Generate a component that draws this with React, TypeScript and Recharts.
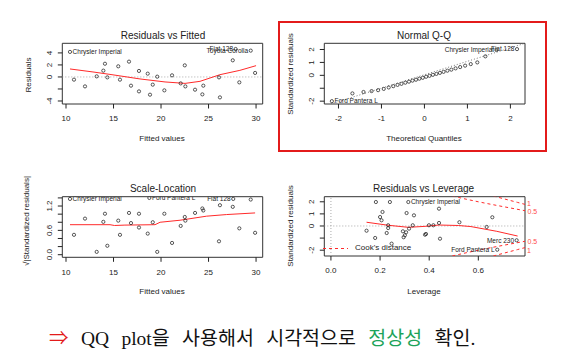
import React from 'react';
import { ComposedChart, Scatter, Line, XAxis, YAxis, ReferenceLine, ReferenceArea } from 'recharts';

const FONT = '"Liberation Sans", Arial, Helvetica, sans-serif';
const INK = '#222';
const RED = '#ff2a2a';

// Residuals vs Fitted
const rvfFitted = [10.42, 10.84, 12.0, 13.23, 13.93, 14.1, 14.35, 15.5, 15.68, 16.63, 16.84, 17.68, 17.68, 18.6, 18.84, 19.13, 19.6, 20.35, 21.16, 22.07, 22.5, 22.56, 23.58, 24.35, 24.45, 26.1, 26.2, 27.55, 27.85, 28.24, 29.44, 29.9];
const rvfResid = [4.17, -0.45, -1.57, 0.1, 1.05, 2.2, -0.07, 1.77, -0.45, 2.55, -1.45, 1.0, -2.4, 0.55, -2.95, -1.28, 0.05, -2.23, 0.27, -1.07, 1.93, -1.57, -2.12, -2.9, -1.45, -0.07, -3.4, 2.77, 4.65, -0.9, 4.38, 0.67];
const rvfNames: Record<number, string> = { 0: 'Chrysler Imperial', 28: 'Fiat 128', 30: 'Toyota Corolla' };
const rvfSmoothX = [10.42, 12.84, 14.95, 17.79, 20.42, 22.53, 24.1, 26.2, 28.3, 30.0];
const rvfSmoothY = [1.33, 0.83, 0.35, -0.33, -0.83, -1.07, -0.73, 0.38, 1.1, 1.88];

// Normal Q-Q
const qqTheo = [-2.154, -1.676, -1.418, -1.23, -1.078, -0.947, -0.831, -0.725, -0.626, -0.534, -0.445, -0.36, -0.278, -0.197, -0.118, -0.039, 0.039, 0.118, 0.197, 0.278, 0.36, 0.445, 0.534, 0.626, 0.725, 0.831, 0.947, 1.078, 1.23, 1.418, 1.676, 2.154];
const qqStd = [-2.0, -1.4, -1.29, -1.22, -1.15, -1.05, -0.94, -0.84, -0.74, -0.66, -0.57, -0.49, -0.41, -0.34, -0.26, -0.19, -0.11, -0.04, 0.04, 0.11, 0.19, 0.27, 0.36, 0.44, 0.54, 0.64, 0.75, 0.87, 1.0, 1.47, 1.96, 2.03];
const qqNames: Record<number, string> = { 0: 'Ford Pantera L', 30: 'Chrysler Imperial', 31: 'Fiat 128' };
const qqLineX = [-2.18, 2.34];
const qqLineY = [-2.22, 2.48];

// Scale-Location
const slFitted = [10.42, 10.84, 12.0, 13.23, 13.93, 14.1, 14.35, 15.5, 15.68, 16.63, 16.84, 17.68, 17.68, 18.6, 18.77, 19.13, 19.6, 20.35, 21.16, 22.07, 22.5, 22.56, 23.58, 24.35, 24.45, 26.1, 26.2, 27.55, 27.6, 28.24, 29.44, 29.9];
const slRoot = [1.375, 0.49, 0.89, 0.07, 0.81, 1.01, 0.22, 0.84, 0.49, 1.03, 0.78, 1.01, 0.67, 0.52, 1.4, 0.8, 0.07, 1.01, 0.29, 0.71, 0.93, 0.84, 1.03, 1.14, 1.09, 0.33, 1.22, 1.18, 1.375, 0.65, 1.36, 0.54];
const slNames: Record<number, string> = { 0: 'Chrysler Imperial', 14: 'Ford Pantera L', 28: 'Fiat 128' };
const slSmoothX = [10.42, 14.63, 15.1, 16.2, 19.37, 19.9, 22.0, 24.8, 26.9, 29.9];
const slSmoothY = [0.74, 0.74, 0.72, 0.73, 0.74, 0.8, 0.85, 0.95, 0.99, 1.03];

// Residuals vs Leverage
const lvLev = [0.145, 0.18, 0.183, 0.2, 0.206, 0.21, 0.227, 0.233, 0.233, 0.24, 0.247, 0.293, 0.296, 0.301, 0.306, 0.308, 0.315, 0.318, 0.333, 0.338, 0.383, 0.387, 0.399, 0.417, 0.44, 0.44, 0.444, 0.523, 0.634, 0.657, 0.677, 0.756];
const lvStd = [-0.39, -0.99, 1.98, 0.74, 0.47, 1.16, -0.58, 0.06, -0.17, 1.98, -1.46, -0.44, -0.93, -0.77, -0.52, 1.07, 1.98, -0.22, 0.06, 0.88, -0.72, -0.66, 0.06, 0.06, 1.43, 0.25, -1.05, 0.31, -0.08, 0.72, -1.96, -1.18];
const lvNames: Record<number, string> = { 16: 'Chrysler Imperial', 30: 'Ford Pantera L', 31: 'Merc 230' };
const lvSmoothX = [0.145, 0.233, 0.315, 0.383, 0.44, 0.52, 0.57, 0.675, 0.76];
const lvSmoothY = [0.31, 0.06, -0.11, -0.03, 0.08, 0.04, -0.05, -0.44, -0.83];
const cookHalfX = [0.494, 0.506, 0.52, 0.55, 0.6, 0.65, 0.7, 0.75, 0.79];
const cookHalfY = [2.479, 2.42, 2.353, 2.216, 2.0, 1.797, 1.604, 1.414, 1.263];
const cookOneX = [0.661, 0.672, 0.7, 0.73, 0.76, 0.79];
const cookOneY = [2.481, 2.42, 2.268, 2.107, 1.947, 1.786];

const pts = (xs: number[], ys: number[], names: Record<number, string> = {}) =>
  xs.map((x, i) => ({ x, y: ys[i], name: names[i] }));
const neg = (ys: number[]) => ys.map(v => -v);

const pointShape = (mid: number) => (p: any) => {
  const { cx, cy, payload } = p;
  const left = payload.x > mid;
  return (
    <g>
      <circle cx={cx} cy={cy} r={1.6} fill="none" stroke={INK} strokeWidth={0.75} />
      {payload.name ? (
        <text x={left ? cx - 2.6 : cx + 2.6} y={cy} dy="0.36em" fontSize={6.5} fontFamily={FONT} fill={INK} textAnchor={left ? 'end' : 'start'}>
          {payload.name}
        </text>
      ) : null}
    </g>
  );
};

const fmt = (d: number) => (v: number) => v.toFixed(d);
const AX = 30; // room reserved for axis ticks inside the margins

function Panel({ pos, frame, xDomain, yDomain, xTicks, yTicks, yShown, xDigits = 0, yDigits = 0, children }: any) {
  const [L, T, W, H] = pos;
  const fx = fmt(xDigits);
  const fy = fmt(yDigits);
  return (
    <div style={{ position: 'absolute', left: L, top: T }}>
      <ComposedChart width={W} height={H} margin={{ top: frame[1], left: frame[0] - AX, right: W - frame[2], bottom: H - frame[3] - AX }}>
        <XAxis
          type="number"
          dataKey="x"
          domain={xDomain}
          allowDataOverflow
          ticks={xTicks}
          interval={0}
          height={AX}
          axisLine={false}
          tickLine={{ stroke: INK }}
          tickSize={4.5}
          tickMargin={7}
          tick={(t: any) => (
            <text x={t.x} y={t.y} dy="0.72em" textAnchor="middle" fontSize={8} fontFamily={FONT} fill={INK}>
              {fx(t.payload.value)}
            </text>
          )}
        />
        <YAxis
          type="number"
          dataKey="y"
          domain={yDomain}
          allowDataOverflow
          ticks={yTicks}
          interval={0}
          width={AX}
          axisLine={false}
          tickLine={{ stroke: INK }}
          tickSize={4.5}
          tickMargin={6}
          tick={(t: any) =>
            yShown.some((s: number) => Math.abs(s - t.payload.value) < 1e-6) ? (
              <text x={t.x} y={t.y} transform={`rotate(-90 ${t.x} ${t.y})`} textAnchor="middle" fontSize={8} fontFamily={FONT} fill={INK}>
                {fy(t.payload.value)}
              </text>
            ) : (
              <g />
            )
          }
        />
        <ReferenceArea x1={xDomain[0]} x2={xDomain[1]} y1={yDomain[0]} y2={yDomain[1]} fill="none" fillOpacity={0} stroke="#333" strokeWidth={1} ifOverflow="visible" />
        {children}
      </ComposedChart>
    </div>
  );
}

const Txt = ({ x, y, children, size = 8, rotate = false, color = INK, start = false }: any) => (
  <div
    style={{
      position: 'absolute',
      left: x,
      top: y,
      transform: `translate(${start ? '0' : '-50%'},-50%)${rotate ? ' rotate(-90deg)' : ''}`,
      fontSize: size,
      fontFamily: FONT,
      color,
      whiteSpace: 'nowrap',
      lineHeight: 1,
    }}
  >
    {children}
  </div>
);

export default function App() {
  const dotted = { stroke: '#aaa', strokeDasharray: '1 2', strokeWidth: 1 };
  return (
    <div style={{ position: 'absolute', left: 0, top: 0, width: 561, height: 362, background: '#fff', overflow: 'hidden' }}>
      <Panel pos={[0, 0, 280, 150]} frame={[62.3, 43.3, 262.7, 104]} xDomain={[9.61, 30.7]} yDomain={[-4.5, 5.6]}
        xTicks={[10, 15, 20, 25, 30]} yTicks={[-4, -2, 0, 2, 4]} yShown={[-4, 0, 2, 4]}>
        <ReferenceLine y={0} {...dotted} />
        <Line data={pts(rvfSmoothX, rvfSmoothY)} dataKey="y" type="linear" stroke={RED} strokeWidth={1} dot={false} isAnimationActive={false} />
        <Scatter data={pts(rvfFitted, rvfResid, rvfNames)} dataKey="y" shape={pointShape(20.15)} isAnimationActive={false} />
      </Panel>

      <Panel pos={[270, 0, 280, 150]} frame={[54.3, 43.3, 255, 104]} xDomain={[-2.33, 2.34]} yDomain={[-2.22, 2.48]}
        xTicks={[-2, -1, 0, 1, 2]} yTicks={[-2, -1, 0, 1, 2]} yShown={[-2, 0, 1, 2]}>
        <Line data={pts(qqLineX, qqLineY)} dataKey="y" type="linear" stroke="#777" strokeDasharray="1 2" strokeWidth={1} dot={false} isAnimationActive={false} />
        <Scatter data={pts(qqTheo, qqStd, qqNames)} dataKey="y" shape={pointShape(0)} isAnimationActive={false} />
      </Panel>

      <Panel pos={[0, 160, 280, 150]} frame={[62.3, 36.7, 262.7, 97.3]} xDomain={[9.61, 30.7]} yDomain={[-0.064, 1.43]}
        xTicks={[10, 15, 20, 25, 30]} yTicks={[0, 0.2, 0.4, 0.6, 0.8, 1.0, 1.2, 1.4]} yShown={[0, 0.6, 1.2]} yDigits={1}>
        <Line data={pts(slSmoothX, slSmoothY)} dataKey="y" type="linear" stroke={RED} strokeWidth={1} dot={false} isAnimationActive={false} />
        <Scatter data={pts(slFitted, slRoot, slNames)} dataKey="y" shape={pointShape(20.15)} isAnimationActive={false} />
      </Panel>

      <Panel pos={[270, 160, 291, 150]} frame={[54.3, 36.7, 255, 96]} xDomain={[-0.027, 0.79]} yDomain={[-2.48, 2.42]}
        xTicks={[0, 0.2, 0.4, 0.6]} yTicks={[-2, -1, 0, 1, 2]} yShown={[-2, 0, 1, 2]} xDigits={1}>
        <ReferenceLine y={0} {...dotted} />
        <ReferenceLine x={0} {...dotted} />
        <Line data={pts(cookHalfX, cookHalfY)} dataKey="y" type="linear" stroke={RED} strokeDasharray="3 3" strokeWidth={1} dot={false} isAnimationActive={false} />
        <Line data={pts(cookOneX, cookOneY)} dataKey="y" type="linear" stroke={RED} strokeDasharray="3 3" strokeWidth={1} dot={false} isAnimationActive={false} />
        <Line data={pts(cookHalfX, neg(cookHalfY))} dataKey="y" type="linear" stroke={RED} strokeDasharray="3 3" strokeWidth={1} dot={false} isAnimationActive={false} />
        <Line data={pts(cookOneX, neg(cookOneY))} dataKey="y" type="linear" stroke={RED} strokeDasharray="3 3" strokeWidth={1} dot={false} isAnimationActive={false} />
        <Line data={pts(lvSmoothX, lvSmoothY)} dataKey="y" type="linear" stroke={RED} strokeWidth={1} dot={false} isAnimationActive={false} />
        <Scatter data={pts(lvLev, lvStd, lvNames)} dataKey="y" shape={pointShape(0.38)} isAnimationActive={false} />
      </Panel>

      {/* titles */}
      <Txt x={163} y={36} size={10}>Residuals vs Fitted</Txt>
      <Txt x={424} y={36} size={10}>Normal Q-Q</Txt>
      <Txt x={163} y={188.5} size={10}>Scale-Location</Txt>
      <Txt x={423.5} y={189} size={10}>Residuals vs Leverage</Txt>

      {/* axis titles */}
      <Txt x={162} y={139}>Fitted values</Txt>
      <Txt x={424} y={139}>Theoretical Quantiles</Txt>
      <Txt x={162} y={291.7}>Fitted values</Txt>
      <Txt x={424} y={291.7}>Leverage</Txt>
      <Txt x={28.5} y={74.5} rotate>Residuals</Txt>
      <Txt x={290.7} y={73.5} rotate>Standardized residuals</Txt>
      <Txt x={27} y={221} rotate>√|Standardized residuals|</Txt>
      <Txt x={290.7} y={226.2} rotate>Standardized residuals</Txt>

      {/* Cook's distance legend and contour labels */}
      <svg style={{ position: 'absolute', left: 322, top: 246 }} width={28} height={5}>
        <line x1={1} y1={2.5} x2={26} y2={2.5} stroke={RED} strokeDasharray="3 3" strokeWidth={1} />
      </svg>
      <Txt x={355} y={248.3} start>Cook's distance</Txt>
      <Txt x={527} y={203} size={7} color="#ff4b4b" start>1</Txt>
      <Txt x={527.5} y={211} size={7} color="#ff4b4b" start>0.5</Txt>
      <Txt x={527.5} y={241.3} size={7} color="#ff4b4b" start>0.5</Txt>
      <Txt x={527} y={249.5} size={7} color="#ff4b4b" start>1</Txt>

      {/* highlight box around Q-Q */}
      <div style={{ position: 'absolute', left: 278.3, top: 20.7, width: 269, height: 131.3, border: '2px solid #e31b1b', boxSizing: 'border-box' }} />

      <svg style={{ position: 'absolute', left: 0, top: 315 }} width={561} height={45}>
        <text x={49} y={29.5} fontSize={19.5} fontFamily='"Liberation Serif", "Noto Sans CJK KR", serif' fill="#111" wordSpacing={7.5} style={{ whiteSpace: 'pre' }}>
          <tspan fill="#e31b1b">⇒</tspan>
          <tspan> QQ plot을 사용해서 시각적으로 </tspan>
          <tspan fill="#1ca35a">정상성</tspan>
          <tspan> 확인.</tspan>
        </text>
      </svg>
    </div>
  );
}
